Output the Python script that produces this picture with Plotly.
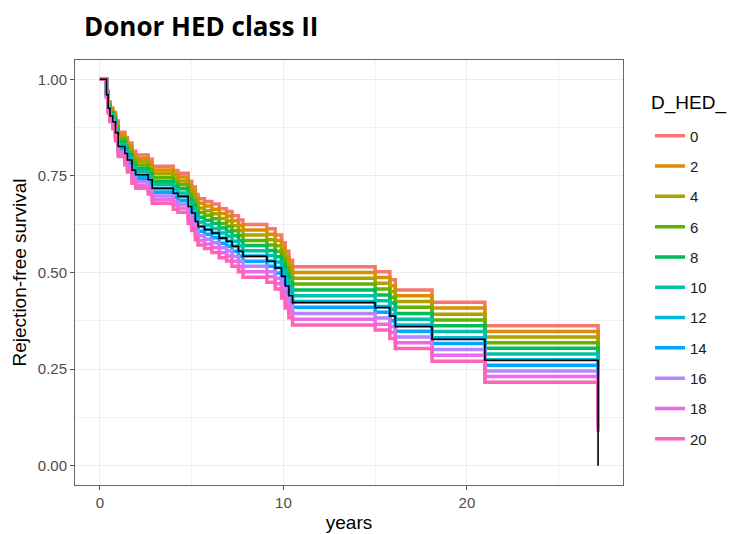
import plotly.graph_objects as go

# step times (years)
times = [0, 0.36, 0.45, 0.55, 0.70, 0.85, 1.00, 1.36, 1.50, 1.75, 1.95, 2.63, 2.85,
         4.00, 4.25, 4.81, 5.00, 5.20, 5.35, 5.70, 6.10, 6.50, 6.90, 7.20, 7.55, 7.80,
         9.10, 9.55, 9.90, 10.10, 10.30, 10.50, 15.00, 15.80, 16.10, 18.10, 20.98, 27.15]

# overall curve (black)
surv_all = [1.000, .960, .925, .905, .890, .862, .826, .808, .791, .765, .753, .740, .718,
            .705, .697, .671, .654, .632, .619, .611, .602, .589, .581, .568, .555, .542,
            .529, .512, .490, .465, .440, .422, .409, .387, .360, .327, .273, 0.000]

hed_levels = ["0", "2", "4", "6", "8", "10", "12", "14", "16", "18", "20"]

surv_hed_0 = [1.000, .969, .942, .926, .914, .892, .863, .849, .835, .814, .804, .793, .775, .764, .757, .736, .721, .702, .691, .684, .677, .665, .658, .647, .636, .624, .613, .597, .577, .555, .532, .515, .502, .481, .455, .423, .362, .199]
surv_hed_2 = [1.000, .968, .939, .922, .910, .887, .857, .842, .827, .805, .795, .784, .765, .754, .747, .725, .710, .691, .679, .672, .664, .653, .646, .634, .622, .610, .599, .583, .563, .540, .517, .500, .487, .466, .440, .408, .347, .188]
surv_hed_4 = [1.000, .966, .936, .919, .906, .882, .850, .835, .820, .797, .787, .775, .756, .744, .737, .714, .699, .679, .667, .660, .652, .640, .633, .621, .609, .597, .585, .569, .549, .525, .502, .485, .472, .451, .425, .392, .333, .177]
surv_hed_6 = [1.000, .964, .933, .915, .902, .877, .844, .828, .812, .789, .778, .766, .746, .734, .727, .703, .687, .667, .655, .648, .639, .627, .620, .608, .596, .583, .571, .555, .534, .511, .487, .470, .457, .436, .410, .377, .318, .166]
surv_hed_8 = [1.000, .963, .930, .912, .898, .871, .838, .821, .805, .781, .769, .757, .736, .724, .717, .692, .676, .655, .643, .635, .627, .615, .607, .595, .582, .570, .557, .541, .520, .496, .472, .455, .442, .421, .394, .362, .304, .155]
surv_hed_10 = [1.000, .961, .927, .908, .893, .866, .831, .814, .797, .772, .761, .748, .727, .714, .706, .681, .665, .644, .631, .623, .614, .602, .594, .581, .569, .556, .544, .527, .506, .481, .457, .440, .427, .405, .379, .347, .289, .144]
surv_hed_12 = [1.000, .960, .924, .904, .889, .861, .825, .807, .790, .764, .752, .739, .717, .704, .696, .670, .654, .632, .619, .611, .602, .589, .581, .568, .556, .543, .530, .513, .491, .467, .442, .425, .412, .390, .364, .331, .274, .132]
surv_hed_14 = [1.000, .958, .922, .901, .885, .856, .819, .800, .782, .756, .743, .730, .708, .694, .686, .660, .642, .620, .607, .599, .590, .576, .568, .555, .542, .529, .516, .499, .477, .452, .427, .410, .397, .375, .348, .316, .260, .121]
surv_hed_16 = [1.000, .957, .919, .897, .881, .851, .812, .793, .775, .748, .735, .721, .698, .684, .676, .649, .631, .608, .595, .586, .577, .564, .556, .542, .529, .516, .502, .485, .463, .438, .413, .394, .382, .360, .333, .301, .245, .110]
surv_hed_18 = [1.000, .955, .916, .893, .877, .846, .806, .786, .768, .739, .726, .712, .688, .674, .666, .638, .620, .596, .583, .574, .565, .551, .543, .529, .515, .502, .489, .471, .448, .423, .398, .379, .366, .345, .318, .286, .231, .099]
surv_hed_20 = [1.000, .953, .913, .890, .873, .841, .800, .779, .760, .731, .718, .703, .679, .664, .656, .627, .609, .585, .571, .562, .552, .538, .530, .516, .502, .488, .475, .457, .434, .408, .383, .364, .351, .329, .303, .270, .216, .088]

colors = ["#F8766D", "#DB8E00", "#AEA200", "#64B200", "#00BD5C", "#00C1A7",
          "#00BADE", "#00A6FF", "#B385FF", "#EF67EB", "#FF63B6"]

series = [surv_hed_0, surv_hed_2, surv_hed_4, surv_hed_6, surv_hed_8, surv_hed_10,
          surv_hed_12, surv_hed_14, surv_hed_16, surv_hed_18, surv_hed_20]

fig = go.Figure()
for lvl, vals, col in zip(hed_levels, series, colors):
    fig.add_trace(go.Scatter(x=times, y=vals, mode="lines", name=lvl,
                             line=dict(color=col, width=3.5, shape="hv"),
                             legendgroup=lvl))
fig.add_trace(go.Scatter(x=times, y=surv_all, mode="lines", showlegend=False,
                         line=dict(color="black", width=1.6, shape="hv")))

tick_font = dict(family="Liberation Sans, Arial, sans-serif", size=15, color="#4D4D4D")
title_font = dict(family="Liberation Sans, Arial, sans-serif", size=19, color="black")

fig.update_layout(
    width=735, height=534,
    margin=dict(l=75, r=112, t=60, b=49, autoexpand=False),
    paper_bgcolor="white", plot_bgcolor="white",
    title=dict(text="<b>Donor HED class II</b>", x=84 / 735, xanchor="left",
               y=1 - 27 / 534, yanchor="middle",
               font=dict(family="Open Sans, sans-serif", size=26, color="black")),
    legend=dict(x=(650 - 75) / 548, xanchor="left", y=0.860, yanchor="top",
                font=dict(family="Liberation Sans, Arial, sans-serif", size=15, color="#1A1A1A"),
                tracegroupgap=7.8, bgcolor="rgba(0,0,0,0)"),
    annotations=[dict(text="D_HED_", xref="paper", yref="paper", x=(649 - 75) / 548,
                      y=(485 - 103) / 425, xanchor="left", yanchor="middle",
                      showarrow=False, font=title_font)],
)
fig.update_xaxes(range=[-1.3575, 28.5075], tickvals=[0, 10, 20], ticktext=["0", "10", "20"],
                 automargin=False,
                 showgrid=True, gridcolor="#EBEBEB", gridwidth=1.2,
                 minor=dict(tickvals=[5, 15, 25], showgrid=True, gridcolor="#F2F2F2", gridwidth=0.8),
                 zeroline=False, showline=True, linecolor="#666666", linewidth=1, mirror=True,
                 ticks="outside", ticklen=4, tickcolor="#555555", tickfont=tick_font,
                 title=dict(text="years", font=title_font, standoff=5))
fig.update_yaxes(range=[-0.05, 1.05], tickvals=[0, 0.25, 0.5, 0.75, 1.0],
                 ticktext=["0.00", "0.25", "0.50", "0.75", "1.00"],
                 automargin=False,
                 showgrid=True, gridcolor="#EBEBEB", gridwidth=1.2,
                 minor=dict(tickvals=[0.125, 0.375, 0.625, 0.875], showgrid=True,
                            gridcolor="#F2F2F2", gridwidth=0.8),
                 zeroline=False, showline=True, linecolor="#666666", linewidth=1, mirror=True,
                 ticks="outside", ticklen=4, tickcolor="#555555", tickfont=tick_font,
                 title=dict(text="Rejection-free survival", font=title_font, standoff=6))

fig.write_html("out.html", config={"displayModeBar": False},
               post_script="document.body.style.margin='0px';document.body.style.overflow='hidden';")
